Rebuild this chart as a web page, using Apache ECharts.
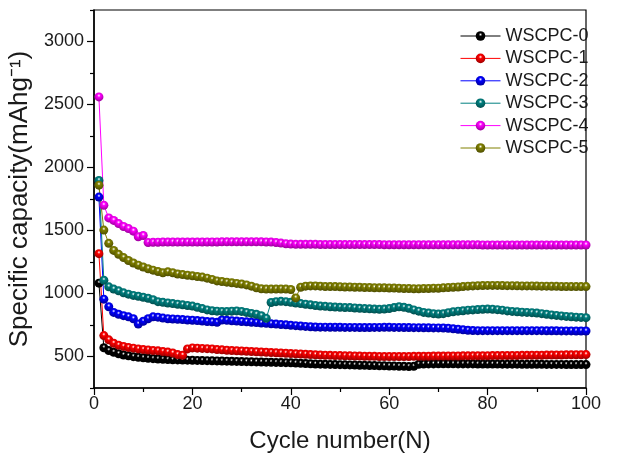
<!DOCTYPE html>
<html>
<head>
<meta charset="utf-8">
<script src="https://cdn.jsdelivr.net/npm/echarts@6/dist/echarts.min.js"></script>
<style>html,body{margin:0;padding:0;background:#fff;}#c{width:619px;height:453px;}</style>
</head>
<body>
<div id="c"></div>
<script>
var cycles = [1,2,3,4,5,6,7,8,9,10,11,12,13,14,15,16,17,18,19,20,21,22,23,24,25,26,27,28,29,30,31,32,33,34,35,36,37,38,39,40,41,42,43,44,45,46,47,48,49,50,51,52,53,54,55,56,57,58,59,60,61,62,63,64,65,66,67,68,69,70,71,72,73,74,75,76,77,78,79,80,81,82,83,84,85,86,87,88,89,90,91,92,93,94,95,96,97,98,99,100];
var seriesNames = ['WSCPC-0','WSCPC-1','WSCPC-2','WSCPC-3','WSCPC-4','WSCPC-5'];
var seriesColors = ['#000000','#ff0000','#0000ff','#008080','#ff00ff','#808000'];
var wscpc0 = [1082,569,547,534,522,512,505,499,494,490,486,483,480,478,476,474,473,472,471,470,469,468,467,466,465,464,463,462,461,460,459,458,457,456,455,454,453,452,451,450,448,446,444,442,440,439,438,437,436,435,434,433,432,431,430,429,428,427,426,425,424,423,422,421,422,438,440,441,441,442,442,442,442,441,441,441,441,440,440,440,440,440,439,439,439,439,438,438,438,438,438,437,437,437,437,436,436,436,436,436];
var wscpc1 = [1316,666,632,605,590,580,572,566,560,556,552,548,545,540,535,528,515,510,560,568,566,564,562,560,556,553,550,548,546,544,542,540,538,536,534,532,530,528,526,524,522,520,518,516,514,512,510,509,508,507,506,505,504,503,502,502,501,500,500,500,500,500,500,500,501,501,502,502,503,503,503,504,504,504,505,505,505,506,506,506,507,507,507,508,508,508,509,509,510,510,510,511,511,512,512,513,513,514,514,515];
var wscpc2 = [1765,955,895,850,835,824,815,800,758,780,800,815,812,805,800,798,795,793,790,788,785,782,778,775,771,790,787,784,781,778,775,772,769,766,763,760,757,754,751,748,745,742,739,736,734,733,733,732,732,732,731,731,731,730,730,730,731,731,732,732,731,731,730,730,729,729,728,728,727,727,726,724,720,716,712,708,706,705,705,705,705,705,705,705,705,705,705,705,705,705,705,704,704,704,703,703,703,702,702,702];
var wscpc3 = [1897,1105,1053,1035,1021,1005,995,985,978,970,962,950,935,930,925,920,915,910,905,900,890,880,870,863,860,858,858,860,862,858,850,842,835,824,803,929,935,938,935,930,925,920,915,910,905,900,898,895,892,890,889,888,885,882,880,878,876,875,876,880,888,895,890,882,870,860,850,845,840,837,840,848,855,860,863,868,870,873,875,876,875,872,868,862,858,855,852,850,848,845,840,835,830,826,822,818,815,812,810,808];
var wscpc4 = [2560,1700,1600,1580,1555,1532,1515,1495,1450,1460,1405,1406,1407,1408,1408,1408,1408,1408,1408,1408,1408,1408,1409,1409,1409,1410,1410,1410,1410,1410,1410,1410,1410,1410,1409,1408,1405,1400,1395,1392,1390,1390,1390,1390,1390,1389,1389,1389,1389,1389,1388,1388,1388,1388,1388,1388,1388,1388,1387,1387,1387,1387,1387,1387,1387,1387,1386,1386,1386,1386,1386,1386,1386,1386,1386,1386,1386,1386,1385,1385,1385,1385,1385,1385,1385,1385,1385,1385,1385,1385,1385,1385,1385,1385,1385,1385,1385,1385,1385,1385];
var wscpc5 = [1860,1503,1398,1342,1311,1285,1262,1242,1225,1210,1196,1185,1175,1165,1172,1165,1155,1150,1145,1140,1135,1130,1122,1112,1100,1095,1090,1085,1080,1075,1068,1058,1045,1038,1035,1035,1035,1036,1035,1032,965,1050,1058,1060,1060,1058,1056,1055,1055,1054,1052,1052,1050,1050,1048,1048,1046,1045,1045,1044,1043,1042,1040,1040,1038,1038,1040,1040,1042,1042,1045,1048,1050,1052,1055,1058,1060,1062,1063,1064,1064,1064,1063,1062,1062,1061,1060,1060,1060,1059,1058,1058,1057,1057,1056,1056,1055,1055,1055,1055];
var seriesValues = [wscpc0, wscpc1, wscpc2, wscpc3, wscpc4, wscpc5];
var yTickLabels = [500,1000,1500,2000,2500,3000];

function shade(hex, f) {
  var r = parseInt(hex.substr(1,2),16), g = parseInt(hex.substr(3,2),16), b = parseInt(hex.substr(5,2),16);
  return 'rgb(' + Math.round(r*f) + ',' + Math.round(g*f) + ',' + Math.round(b*f) + ')';
}
function sphere(hex) {
  return { type:'radial', x:0.5, y:0.35, r:0.65,
    colorStops:[{offset:0,color:'#ffffff'},{offset:0.28,color:hex},{offset:1,color:shade(hex,0.6)}] };
}

var FONT = 'Liberation Sans, Arial, sans-serif';
var series = seriesNames.map(function(n, i){
  return {
    name: n, type: 'line', xAxisIndex: 0, yAxisIndex: 0,
    data: cycles.map(function(c, k){ return [c, seriesValues[i][k]]; }),
    symbol: 'circle', symbolSize: 9,
    itemStyle: { color: sphere(seriesColors[i]) },
    lineStyle: { color: seriesColors[i], width: 1 },
    animation: false
  };
});

var chart = echarts.init(document.getElementById('c'), null, {renderer:'canvas'});
chart.setOption({
  backgroundColor: '#ffffff',
  animation: false,
  grid: { left: 94, right: 33, top: 10, bottom: 65, containLabel: false, outerBoundsMode: 'none',
          show: true, borderColor: '#000', borderWidth: 1.2, backgroundColor: 'transparent' },
  legend: {
    orient: 'vertical', left: 455, top: 21, itemWidth: 40, itemHeight: 12, itemGap: 2.4,
    data: seriesNames,
    lineStyle: { width: 1 },
    textStyle: { fontFamily: FONT, fontSize: 18, color: '#1a1a1a', lineHeight: 20, padding: [0,0,0,0] }
  },
  xAxis: {
    type: 'value', min: 0, max: 100, interval: 20,
    name: 'Cycle number(N)', nameLocation: 'middle', nameGap: 41,
    nameTextStyle: { fontFamily: FONT, fontSize: 24, color: '#1a1a1a' },
    axisLine: { show: true, lineStyle: { color: '#000', width: 1.5 } },
    axisTick: { show: true, length: 7, lineStyle: { color: '#000', width: 1.2 } },
    minorTick: { show: true, splitNumber: 2, length: 4, lineStyle: { color: '#000', width: 1.2 } },
    axisLabel: { fontFamily: FONT, fontSize: 18, color: '#1a1a1a', margin: 7 },
    splitLine: { show: false }
  },
  yAxis: [{
    type: 'value', min: 250, max: 3250, splitNumber: 6,
    name: 'Specific capacity(mAhg\u207B\u00B9)', nameLocation: 'middle', nameGap: 55, nameRotate: 90,
    nameTextStyle: { fontFamily: FONT, fontSize: 26, color: '#1a1a1a' },
    axisLine: { show: true, lineStyle: { color: '#000', width: 1.5 } },
    axisTick: { show: true, length: 7, lineStyle: { color: '#000', width: 1.2 } },
    axisLabel: { fontFamily: FONT, fontSize: 18, color: '#1a1a1a', margin: 10, showMinLabel: false, showMaxLabel: false,
      formatter: function(v){ return yTickLabels.indexOf(v) >= 0 ? String(v) : ''; } },
    splitLine: { show: false }
  }, {
    type: 'value', min: 250, max: 3250, interval: 500, position: 'left',
    axisLine: { show: false },
    axisTick: { show: true, length: 4, lineStyle: { color: '#000', width: 1.2 } },
    axisLabel: { show: false },
    splitLine: { show: false }
  }],
  series: series
});
</script>
</body>
</html>
